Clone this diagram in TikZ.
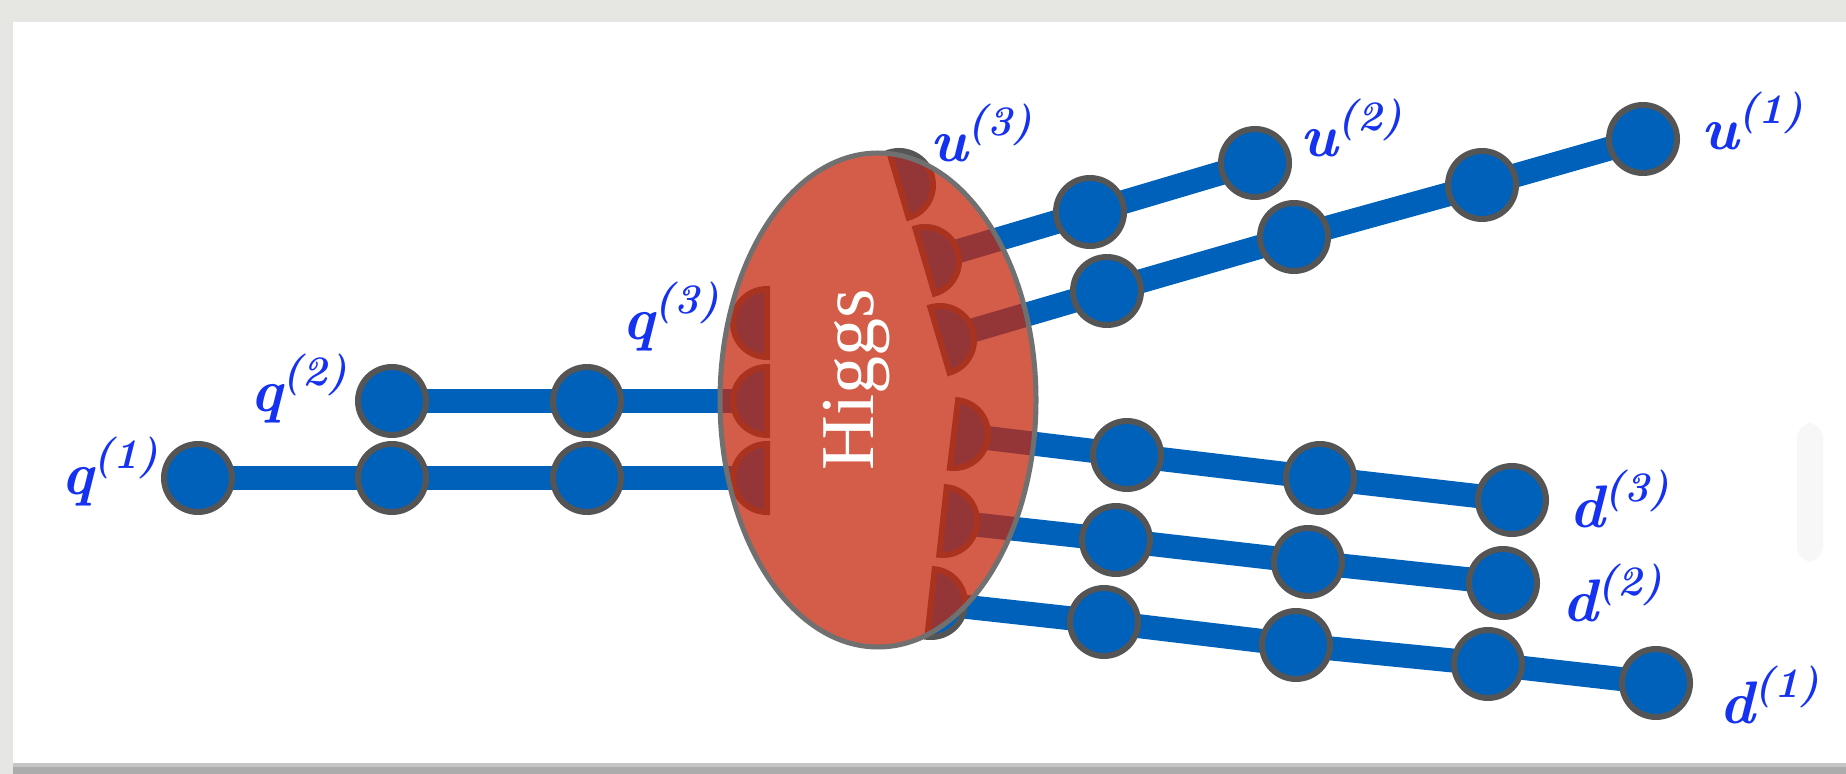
\documentclass[tikz,border=0pt]{standalone}
\usepackage{fontspec}
\newfontfamily\higgsfont{Liberation Serif}
\usetikzlibrary{shapes.geometric}
\definecolor{nodeblue}{RGB}{0,97,187}
\definecolor{nodeborder}{RGB}{85,85,85}
\definecolor{higgsred}{RGB}{198,40,13}
\definecolor{higgsedge}{RGB}{112,112,112}
\definecolor{labelblue}{RGB}{20,50,240}
\definecolor{framegray}{RGB}{230,230,226}
\pgfdeclarelayer{bgzero}
\pgfdeclarelayer{legs}
\pgfsetlayers{bgzero,legs,main}
\newcommand{\lblsup}[1]{\raisebox{13pt}{\fontsize{21}{21}\selectfont\bfseries\itshape(#1)}}
\newcommand{\halfdisc}[2]{%
  \draw[halfd] (#1) ++(#2-90:34) arc[start angle=#2-90, end angle=#2+90, radius=34] -- cycle;}
\tikzset{
  tn/.style={circle, fill=nodeblue, draw=nodeborder, line width=3pt, minimum size=34pt, inner sep=0pt},
  leg/.style={draw=nodeblue, line width=12pt},
  halfd/.style={fill=nodeblue, draw=nodeborder, line width=3pt},
  lbl/.style={text=labelblue, inner sep=0pt, font=\fontsize{30}{30}\selectfont\bfseries\itshape},
  blob/.style={ellipse, fill=higgsred, fill opacity=0.75, draw=higgsedge, line width=2.5pt,
    minimum width=158pt, minimum height=247pt, inner sep=0pt},
}
\begin{document}
\begin{tikzpicture}[x=0.5pt, y=-0.5pt]
\useasboundingbox (0,0) rectangle (1846,774);
\begin{pgfonlayer}{bgzero}
  \fill[framegray] (0,0) rectangle (1846,774);
  \fill[white] (13,22) rectangle (1846,763);
  \fill[gray!45] (13,763) rectangle (1846,767);
  \fill[gray!65] (13,767) rectangle (1846,774);
  \fill[gray!6, rounded corners=8pt] (1797,423) rectangle (1823,562);
\end{pgfonlayer}

% half-disc centres
\coordinate (hq1) at (767,478);
\coordinate (hq2) at (767,401);
\coordinate (hq3) at (767,323);
\coordinate (hu3) at (899,185);
\coordinate (hu2) at (925,261);
\coordinate (hu1) at (940,340);
\coordinate (hd3) at (954,434);
\coordinate (hd2) at (943,521);
\coordinate (hd1) at (931,603);

% tensor nodes
\node[tn] (q11) at (198,478) {};
\node[tn] (q12) at (392,478) {};
\node[tn] (q13) at (587,478) {};
\node[tn] (q22) at (392,401) {};
\node[tn] (q23) at (587,401) {};

\node[tn] (u22) at (1090,212) {};
\node[tn] (u23) at (1255,163) {};
\node[tn] (u12) at (1107,291) {};
\node[tn] (u13) at (1294,237) {};
\node[tn] (u14) at (1482,185) {};
\node[tn] (u15) at (1643,139) {};

\node[tn] (d32) at (1127,455) {};
\node[tn] (d33) at (1320,478) {};
\node[tn] (d34) at (1512,500) {};
\node[tn] (d22) at (1116,540) {};
\node[tn] (d23) at (1308,562) {};
\node[tn] (d24) at (1503,583) {};
\node[tn] (d12) at (1104,622) {};
\node[tn] (d13) at (1296,645) {};
\node[tn] (d14) at (1488,664) {};
\node[tn] (d15) at (1656,683) {};

% legs
\begin{pgfonlayer}{legs}
  \draw[leg] (q11.center) -- (q12.center) -- (q13.center) -- (hq1);
  \draw[leg] (q22.center) -- (q23.center) -- (hq2);
  \draw[leg] (hu2) -- (u22.center) -- (u23.center);
  \draw[leg] (hu1) -- (u12.center) -- (u13.center) -- (u14.center) -- (u15.center);
  \draw[leg] (hd3) -- (d32.center) -- (d33.center) -- (d34.center);
  \draw[leg] (hd2) -- (d22.center) -- (d23.center) -- (d24.center);
  \draw[leg] (hd1) -- (d12.center) -- (d13.center) -- (d14.center) -- (d15.center);
\end{pgfonlayer}

% half discs
\halfdisc{hq1}{180}
\halfdisc{hq2}{180}
\halfdisc{hq3}{180}
\halfdisc{hu3}{-16.5}
\halfdisc{hu2}{-16.5}
\halfdisc{hu1}{-16.4}
\halfdisc{hd3}{6.9}
\halfdisc{hd2}{6.3}
\halfdisc{hd1}{6.3}

% Higgs blob
\node[blob] (higgs) at (878,400) {};
\node[text=white, rotate=90, inner sep=0pt, font=\higgsfont\fontsize{38}{38}\selectfont] (higgstext) at (857,380) {Higgs};

% labels
\node[lbl] (lq1) at (110,472) {q\lblsup{1}};
\node[lbl] (lq2) at (299,389) {q\lblsup{2}};
\node[lbl] (lq3) at (671,317) {q\lblsup{3}};
\node[lbl] (lu3) at (981,133) {u\lblsup{3}};
\node[lbl] (lu2) at (1351,128) {u\lblsup{2}};
\node[lbl] (lu1) at (1752,121) {u\lblsup{1}};
\node[lbl] (ld3) at (1619,499) {d\lblsup{3}};
\node[lbl] (ld2) at (1612,593) {d\lblsup{2}};
\node[lbl] (ld1) at (1769,695) {d\lblsup{1}};
\end{tikzpicture}
\end{document}
